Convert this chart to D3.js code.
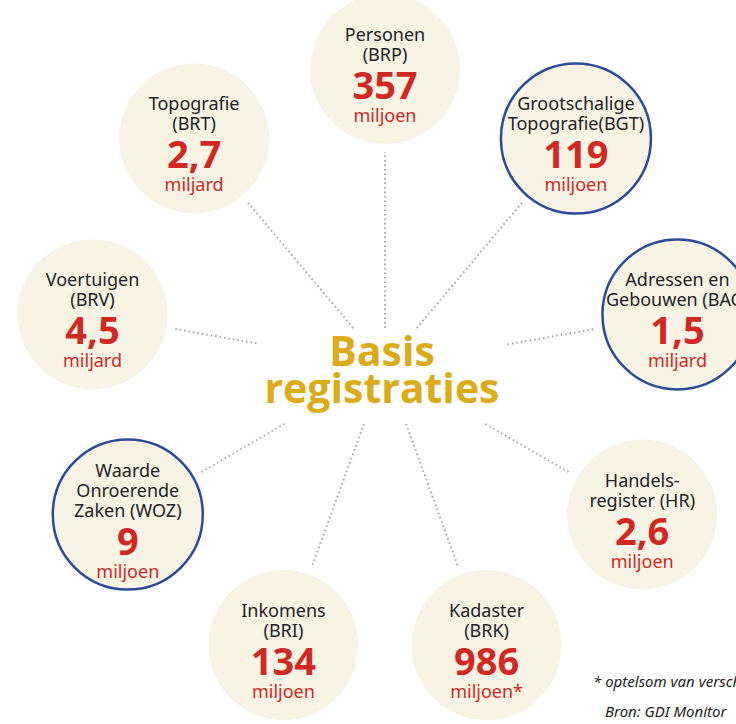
<!DOCTYPE html>
<html>
<head>
<meta charset="utf-8">
<script src="https://cdn.jsdelivr.net/npm/d3@7"></script>
<style>
  html, body { margin: 0; padding: 0; background: #fff; }
  svg { display: block; }
</style>
</head>
<body>
<div id="chart"></div>
<script>
// registers, clockwise from the top
const names = [
  ["Personen", "(BRP)"],
  ["Grootschalige", "Topografie(BGT)"],
  ["Adressen en", "Gebouwen (BAG)"],
  ["Handels-", "register (HR)"],
  ["Kadaster", "(BRK)"],
  ["Inkomens", "(BRI)"],
  ["Waarde", "Onroerende", "Zaken (WOZ)"],
  ["Voertuigen", "(BRV)"],
  ["Topografie", "(BRT)"]
];
const counts = ["357", "119", "1,5", "2,6", "986", "134", "9", "4,5", "2,7"];
const units = ["miljoen", "miljoen", "miljard", "miljoen", "miljoen*", "miljoen", "miljoen", "miljard", "miljard"];
const highlighted = [false, true, true, false, false, false, true, false, false];
const titleLines = ["Basis", "registraties"];
const footnotes = ["* optelsom van verschillende registers", "Bron: GDI Monitor"];

const data = names.map((n, i) => ({
  name: n, count: counts[i], unit: units[i], ring: highlighted[i]
}));

const width = 736, height = 724;
const cx = 385, cy = 366;
const ringR = 297, bubbleR = 75;

const svg = d3.select("#chart").append("svg")
  .attr("width", width)
  .attr("height", height)
  .attr("viewBox", `0 0 ${width} ${height}`);

// even spacing round the centre
const angle = d3.scaleLinear().domain([0, data.length]).range([-Math.PI / 2, 1.5 * Math.PI]);
const pos = (i, r) => [cx + r * Math.cos(angle(i)), cy + r * Math.sin(angle(i))];

const lineLayer = svg.append("g");
const bubbleLayer = svg.append("g");

// centre title
const title = svg.append("g")
  .attr("font-family", "'Open Sans', 'Noto Sans', sans-serif")
  .attr("font-weight", 700)
  .attr("font-size", 41)
  .attr("fill", "#dbab1a")
  .attr("text-anchor", "middle");
title.selectAll("text")
  .data(titleLines)
  .join("text")
  .attr("x", cx - 3)
  .attr("y", (d, i) => cy + i * 37)
  .text(d => d);

// dotted spokes start just outside the title box
const bb = title.node().getBBox();
const box = { x0: bb.x - 8, x1: bb.x + bb.width + 8, y0: bb.y + 6, y1: bb.y + bb.height + 9 };
function boxExit(a) {
  const dx = Math.cos(a), dy = Math.sin(a);
  const tx = dx > 0 ? (box.x1 - cx) / dx : dx < 0 ? (box.x0 - cx) / dx : Infinity;
  const ty = dy > 0 ? (box.y1 - cy) / dy : dy < 0 ? (box.y0 - cy) / dy : Infinity;
  return Math.min(tx, ty);
}

lineLayer.selectAll("line")
  .data(data)
  .join("line")
  .attr("x1", (d, i) => pos(i, boxExit(angle(i)))[0])
  .attr("y1", (d, i) => pos(i, boxExit(angle(i)))[1])
  .attr("x2", (d, i) => pos(i, ringR - bubbleR - 8)[0])
  .attr("y2", (d, i) => pos(i, ringR - bubbleR - 8)[1])
  .attr("stroke", "#a3a3a3")
  .attr("stroke-width", 2)
  .attr("stroke-dasharray", "1.5 3");

const bubbles = bubbleLayer.selectAll("g")
  .data(data)
  .join("g")
  .attr("transform", (d, i) => `translate(${pos(i, ringR)})`);

bubbles.append("circle")
  .attr("r", bubbleR)
  .attr("fill", "#f7f4e5")
  .attr("stroke", d => d.ring ? "#2a4b96" : "none")
  .attr("stroke-width", 2.5);

const font = "'Noto Sans', 'Open Sans', sans-serif";

bubbles.each(function(d) {
  const g = d3.select(this);
  const top = -28 - 10 * (d.name.length - 2);
  g.selectAll("text.name")
    .data(d.name)
    .join("text")
    .attr("class", "name")
    .attr("text-anchor", "middle")
    .attr("font-family", font)
    .attr("font-size", 18)
    .attr("fill", "#222")
    .attr("y", (t, j) => top + j * 20)
    .text(t => t);
  const last = top + (d.name.length - 1) * 20;
  g.append("text")
    .attr("text-anchor", "middle")
    .attr("font-family", font)
    .attr("font-weight", 700)
    .attr("font-size", 38)
    .attr("fill", "#d22823")
    .attr("y", last + 38)
    .text(d.count);
  g.append("text")
    .attr("text-anchor", "middle")
    .attr("font-family", font)
    .attr("font-size", 18)
    .attr("fill", "#d22823")
    .attr("y", last + 61)
    .text(d.unit);
});

// footnotes, bottom right
svg.append("g")
  .attr("font-family", font)
  .attr("font-style", "italic")
  .attr("font-size", 15)
  .attr("fill", "#222")
  .selectAll("text")
  .data(footnotes)
  .join("text")
  .attr("x", (d, i) => i === 0 ? 593 : 605)
  .attr("y", (d, i) => 687 + i * 30)
  .text(d => d);
</script>
</body>
</html>
